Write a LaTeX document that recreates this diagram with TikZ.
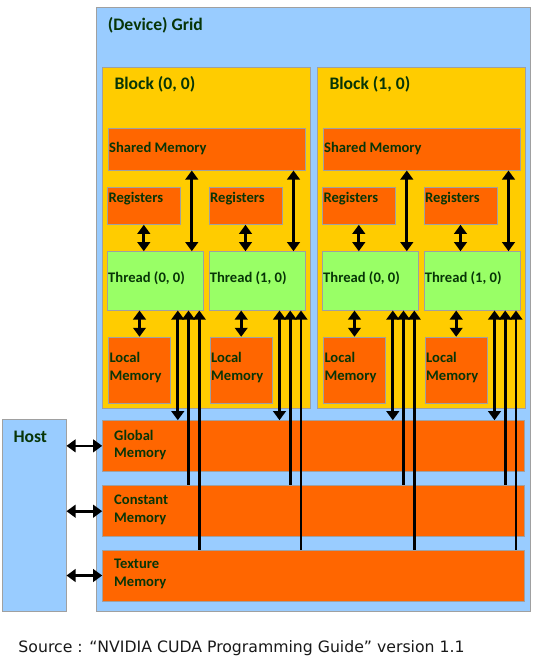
\documentclass[tikz,border=0pt]{standalone}
\usepackage{fontspec}
\setmainfont{Carlito}
\newfontfamily\srcfont{DejaVu Sans}
\usetikzlibrary{arrows.meta,fit,calc}
\definecolor{gridblue}{HTML}{99CCFF}
\definecolor{blockyellow}{HTML}{FFCC00}
\definecolor{memorange}{HTML}{FF6600}
\definecolor{thrgreen}{HTML}{99FF66}
\definecolor{labgreen}{HTML}{073507}
\definecolor{edgegray}{HTML}{A0A0A0}
\begin{document}
\begin{tikzpicture}[x=1pt,y=-1pt,
  box/.style={draw=edgegray, line width=1pt, inner sep=0pt},
  gridbox/.style={box, fill=gridblue},
  blockbox/.style={box, fill=blockyellow},
  membox/.style={box, fill=memorange},
  thrbox/.style={box, fill=thrgreen},
  lab/.style={font=\fontsize{14.6}{17.7}\selectfont\bfseries, text=labgreen, inner sep=0pt, anchor=west, align=left},
  ttl/.style={lab, font=\fontsize{17.6}{21}\selectfont\bfseries},
  arr/.style={line width=2.7pt, draw=black},
  >={Triangle[width=12.5pt,length=9pt]}]
\useasboundingbox (0,0) rectangle (546,665);
\fill[white] (0,0) rectangle (546,665);
% grid and host
\node[gridbox, fit={(96.7,7.3) (530.7,611)}] (grid) {};
\node[gridbox, fit={(2.7,419.3) (66,611)}] (host) {};
\node[ttl] (gridlab) at (107.7,25) {(Device) Grid};
\node[ttl] (hostlab) at (13.3,436.7) {Host};
% blocks
\foreach \b/\dx in {0/0,1/215}{
  \node[blockbox, fit={(102.7+\dx,67.3) (310+\dx,408.3)}] (block\b) {};
  \node[ttl] (blocklab\b) at (114.3+\dx,84.3) {Block (\b, 0)};
  \node[membox, fit={(108.3+\dx,128.3) (305.7+\dx,170)}] (shared\b) {};
  \node[lab] (sharedlab\b) at (109+\dx,148.3) {Shared Memory};
  \foreach \t/\tx in {0/0,1/101.7}{
    \node[membox, fit={(107.3+\dx+\tx,187.7) (180.3+\dx+\tx,224.3)}] (reg\b\t) {};
    \node[lab] (reglab\b\t) at (108.3+\dx+\tx,198.3) {Registers};
    \node[thrbox, fit={(107.3+\dx+\tx,251.7) (203.3+\dx+\tx,310)}] (thr\b\t) {};
    \node[lab] (thrlab\b\t) at (108+\dx+\tx,277.8) {Thread (\t, 0)};
    \node[membox, fit={(108.3+\dx+\tx,337.3) (170.7+\dx+\tx,403.3)}] (loc\b\t) {};
    \node[lab] (loclab\b\t) at (109.3+\dx+\tx,367.6) {Local\\Memory};
  }
}
% device memories
\node[membox, fit={(102.7,420.7) (524.3,471)}] (global) {};
\node[lab] (globallab) at (114,445) {Global\\Memory};
\node[membox, fit={(102.7,485.7) (524.3,536.7)}] (constant) {};
\node[lab] (constlab) at (114,509.6) {Constant\\Memory};
\node[membox, fit={(102.7,550) (524.3,601)}] (texture) {};
\node[lab] (texlab) at (114,574.2) {Texture\\Memory};
% connectors inside blocks
\foreach \b in {0,1}{
  \foreach \t in {0,1}{
    \draw[arr,<->] (reg\b\t.south) -- (reg\b\t.south |- thr\b\t.north);
    \coordinate (s\b\t) at ($(thr\b\t.north east)+(-12,0)$);
    \draw[arr,<->] (s\b\t |- shared\b.south) -- (s\b\t);
    \draw[arr,<->] (loc\b\t.north |- thr\b\t.south) -- (loc\b\t.north);
    \coordinate (ga\b\t) at ($(thr\b\t.south east)+(-26,0)$);
    \coordinate (ca\b\t) at ($(thr\b\t.south east)+(-15.3,0)$);
    \coordinate (ta\b\t) at ($(thr\b\t.south east)+(-4.5,0)$);
    \draw[arr,<->] (ga\b\t) -- (ga\b\t |- global.north);
    \draw[arr,<-] (ca\b\t) -- (ca\b\t |- constant.north);
    \draw[arr,<-] (ta\b\t) -- (ta\b\t |- texture.north);
  }
}
% host connectors
\draw[arr,<->] (host.east |- global.west) -- (global.west);
\draw[arr,<->] (host.east |- constant.west) -- (constant.west);
\draw[arr,<->] (host.east |- texture.west) -- (texture.west);
% source
\node[font=\srcfont\fontsize{15.7}{18}\selectfont, text=black!90, inner sep=0pt, anchor=west] (src) at (18.3,648.3) {Source : “NVIDIA CUDA Programming Guide” version 1.1};
\end{tikzpicture}
\end{document}
